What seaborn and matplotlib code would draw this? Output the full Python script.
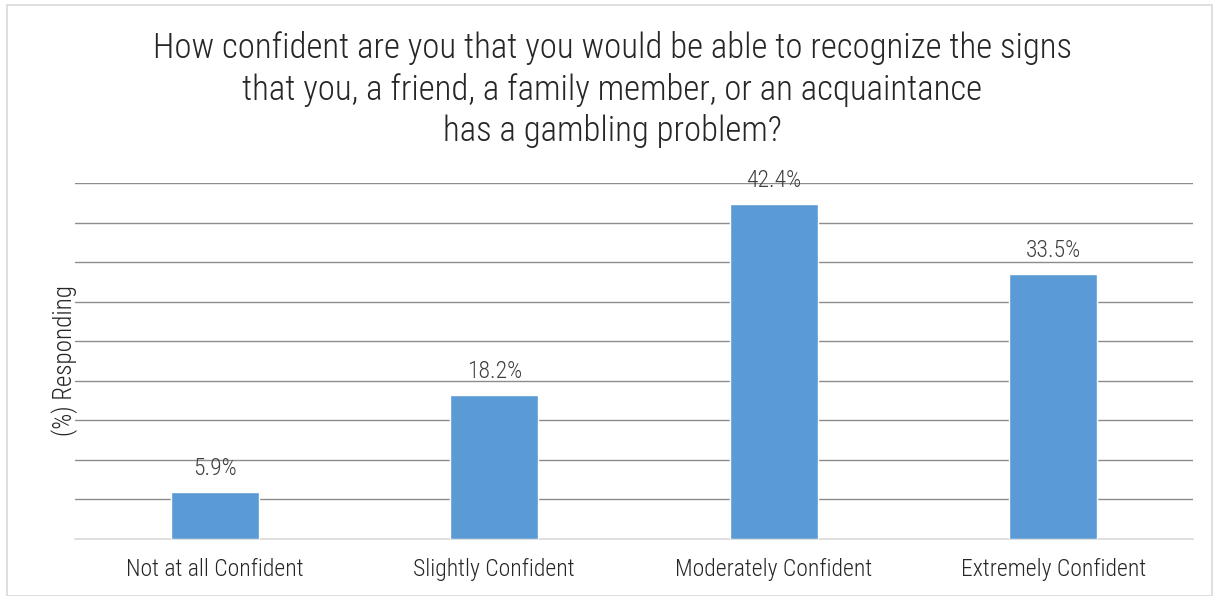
import numpy as np
import pandas as pd
import matplotlib
matplotlib.use("Agg")
import matplotlib.pyplot as plt
import seaborn as sns
from matplotlib.patches import Rectangle

categories = ["Not at all Confident", "Slightly Confident",
              "Moderately Confident", "Extremely Confident"]
values = [5.9, 18.2, 42.4, 33.5]
title = ("How confident are you that you would be able to recognize the signs\n"
         "that you, a friend, a family member, or an acquaintance\n"
         "has a gambling problem?")

sns.set_style("white")
plt.rcParams['font.family'] = ['Roboto Condensed', 'Roboto', 'DejaVu Sans']
plt.rcParams['font.weight'] = 'light'

df = pd.DataFrame({"category": categories, "value": values})

fig = plt.figure(figsize=(12.17, 5.96), dpi=100)
ax = fig.add_axes([75 / 1217, 1 - 539 / 596, (1193 - 75) / 1217, (539 - 183) / 596])

sns.barplot(data=df, x="category", y="value", color="#5B9BD5",
            width=0.315, saturation=1, ax=ax, zorder=3)

ax.set_ylim(0, 45)
ax.set_xlim(-0.5, 3.5)
ax.set_yticks(np.arange(5, 50, 5))
ax.set_yticklabels([])
ax.tick_params(axis='y', length=0)
ax.tick_params(axis='x', length=0, pad=14, labelsize=17, labelcolor="#262626")
ax.yaxis.grid(True, color="#8c8c8c", linewidth=1)
ax.set_axisbelow(True)
for s in ["top", "right", "left"]:
    ax.spines[s].set_visible(False)
ax.spines["bottom"].set_color("#d9d9d9")
ax.spines["bottom"].set_linewidth(1.2)

ax.set_xlabel("")
ax.set_ylabel("(%) Responding", fontsize=18, fontweight="light",
              color="#262626", labelpad=-6)

for i, v in enumerate(values):
    ax.text(i, v + 1.5, f"{v}%", ha="center", va="bottom",
            fontsize=17, color="#404040")

fig.text(0.503, 1 - 31 / 596, title, ha="center", va="top",
         fontsize=25, color="#262626", linespacing=1.28)

fig.patches.append(Rectangle((7 / 1217, 0), 1205 / 1217, 1 - 5 / 596,
                             transform=fig.transFigure, fill=False,
                             edgecolor="#d9d9d9", linewidth=1.2))

fig.savefig("out.png", dpi=100)
